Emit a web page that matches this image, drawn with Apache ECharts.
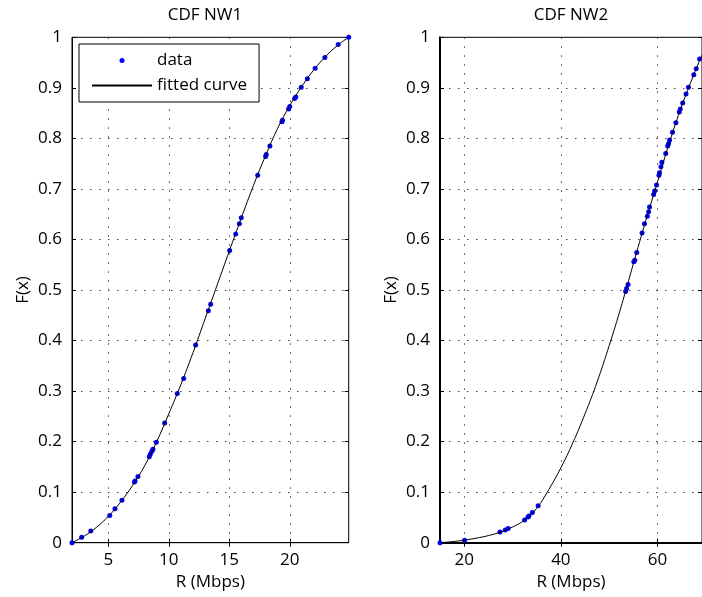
<!DOCTYPE html>
<html>
<head>
<meta charset="utf-8">
<title>CDF NW1 / NW2</title>
<script src="https://cdn.jsdelivr.net/npm/echarts@6/dist/echarts.min.js"></script>
<style>
  html, body { margin: 0; padding: 0; background: #fff; }
  #cdf-chart { width: 702px; height: 597px; }
</style>
</head>
<body>
<div id="cdf-chart"></div>
<script>
// ==============================================================
// data
// ==============================================================
var nw1X = [2.0, 2.8, 3.55, 5.12, 5.55, 6.13, 7.16, 7.21, 7.45, 8.39, 8.47, 8.60, 8.69, 8.97, 9.66, 10.70, 11.23, 12.22, 13.27, 13.46,
            15.03, 15.53, 15.83, 15.99, 17.35, 18.0, 18.06, 18.36, 19.35, 19.4, 19.9, 20.0, 20.4, 20.5, 20.95, 21.45, 22.1, 22.9, 24.0, 24.87];
var nw1F = [0, 0.011, 0.023, 0.054, 0.067, 0.084, 0.120, 0.122, 0.131, 0.170, 0.175, 0.181, 0.185, 0.199, 0.237, 0.295, 0.325, 0.391, 0.459, 0.472,
            0.578, 0.611, 0.631, 0.643, 0.727, 0.764, 0.768, 0.785, 0.833, 0.836, 0.858, 0.863, 0.879, 0.882, 0.901, 0.918, 0.939, 0.960, 0.986, 1.0];

var fit1X = [2, 3, 4, 5, 6, 7, 8, 9, 10, 11, 12, 13, 14, 15, 16, 17, 18, 19, 20, 21, 22, 23, 24, 24.87];
var fit1F = [0, 0.013, 0.03, 0.052, 0.08, 0.113, 0.152, 0.2, 0.255, 0.313, 0.376, 0.443, 0.51, 0.577, 0.643, 0.707, 0.766, 0.82, 0.865, 0.903, 0.936, 0.963, 0.985, 1.0];

var nw2X = [15, 20.1, 27.4, 28.5, 29.1, 32.5, 33.2, 33.4, 34.1, 35.3, 53.4, 53.6, 53.9, 55.1, 55.3, 55.7, 56.8, 57.3, 57.9, 58.15, 58.35,
            59.2, 59.4, 59.8, 60.3, 60.4, 60.7, 60.9, 61.7, 62.1, 62.3, 62.5, 63.1, 63.8, 64.5, 64.7, 65.2, 65.9, 66.4, 67.5, 68.0, 68.7];
var nw2F = [0, 0.005, 0.021, 0.025, 0.028, 0.045, 0.051, 0.053, 0.060, 0.073, 0.497, 0.503, 0.511, 0.556, 0.559, 0.574, 0.613, 0.631, 0.646, 0.655, 0.664,
            0.689, 0.696, 0.708, 0.727, 0.732, 0.744, 0.753, 0.770, 0.785, 0.790, 0.797, 0.812, 0.831, 0.852, 0.858, 0.870, 0.888, 0.901, 0.926, 0.938, 0.957];

var fit2X = [15, 17.5, 20, 22.5, 25, 27.5, 30, 32.5, 35, 37.5, 40, 42.5, 45, 47.5, 50, 52.5, 55, 57.5, 60, 62.5, 65, 67.5, 69.2];
var fit2F = [0, 0.002, 0.005, 0.009, 0.014, 0.021, 0.031, 0.045, 0.068, 0.105, 0.148, 0.198, 0.255, 0.318, 0.39, 0.468, 0.552, 0.635, 0.714, 0.793, 0.864, 0.926, 0.965];

var xTicks1 = [5, 10, 15, 20];
var xTicks2 = [20, 40, 60];

var titles = ['CDF NW1', 'CDF NW2'];

// ==============================================================
function pairs(xs, ys) {
    return xs.map(function (x, i) { return [x, ys[i]]; });
}

var FONT = '"Open Sans", "DejaVu Sans", sans-serif';
var txt = { fontFamily: FONT, fontSize: 17, color: '#000' };
var dotted = { color: '#444', width: 1, type: [1.5, 7.5] };

function xAxisFor(grid, min, max, ticks, top, lineW) {
    return {
        gridIndex: grid, type: 'value', min: min, max: max,
        position: top ? 'top' : 'bottom',
        axisLine: { show: !top, lineStyle: { color: '#000', width: lineW } },
        axisTick: { inside: true, length: 4, customValues: ticks, lineStyle: { color: '#000' } },
        axisLabel: { show: !top, customValues: ticks, margin: 9, fontFamily: FONT, fontSize: 17, color: '#000' },
        splitLine: { show: !top, lineStyle: dotted },
        name: top ? '' : 'R (Mbps)', nameLocation: 'middle', nameGap: 30, nameTextStyle: txt
    };
}

function yAxisFor(grid, right, lineW) {
    return {
        gridIndex: grid, type: 'value', min: 0, max: 1, interval: 0.1,
        position: right ? 'right' : 'left',
        axisLine: { show: !right, lineStyle: { color: '#000', width: lineW } },
        axisTick: { inside: true, length: 4, lineStyle: { color: '#000' } },
        axisLabel: { show: !right, margin: 10, fontFamily: FONT, fontSize: 17, color: '#000' },
        splitLine: { show: !right, lineStyle: dotted },
        name: right ? '' : 'F(x)', nameLocation: 'middle', nameGap: 40, nameTextStyle: txt
    };
}

var myChart = echarts.init(document.getElementById('cdf-chart'));

option = {
    animation: false,
    backgroundColor: '#fff',
    title: [
        { text: titles[0], left: 205, top: 7, textAlign: 'center', padding: 0,
          textStyle: { fontFamily: FONT, fontSize: 17, fontWeight: 'normal', color: '#000' } },
        { text: titles[1], left: 571, top: 7, textAlign: 'center', padding: 0,
          textStyle: { fontFamily: FONT, fontSize: 17, fontWeight: 'normal', color: '#000' } }
    ],
    legend: {
        data: ['data', { name: 'fitted curve', itemStyle: { opacity: 0 } }],
        orient: 'vertical',
        left: 79, top: 44,
        padding: [8, 12, 8, 12],
        itemWidth: 60, itemHeight: 5, itemGap: 8,
        selectedMode: false,
        backgroundColor: '#fff',
        borderColor: '#000', borderWidth: 1,
        textStyle: txt
    },
    grid: [
        { left: 72, top: 37.3, width: 276.7, bottom: 54.3, show: true,
          borderColor: '#000', borderWidth: 1, backgroundColor: '#fff', containLabel: false },
        { left: 440, top: 37.3, right: -2, bottom: 54.3, show: true,
          borderColor: '#000', borderWidth: 1, backgroundColor: '#fff', containLabel: false }
    ],
    xAxis: [
        xAxisFor(0, 2, 24.87, xTicks1, false, 1),
        xAxisFor(0, 2, 24.87, xTicks1, true, 1),
        xAxisFor(1, 15, 69.2, xTicks2, false, 2),
        xAxisFor(1, 15, 69.2, xTicks2, true, 1)
    ],
    yAxis: [
        yAxisFor(0, false, 1),
        yAxisFor(0, true, 1),
        yAxisFor(1, false, 2),
        yAxisFor(1, true, 1)
    ],
    series: [
        { name: 'fitted curve', type: 'line', xAxisIndex: 0, yAxisIndex: 0,
          data: pairs(fit1X, fit1F), smooth: 0.4, showSymbol: false, symbol: 'none',
          lineStyle: { color: '#000', width: 1 }, itemStyle: { color: '#000' } },
        { name: 'data', type: 'scatter', xAxisIndex: 0, yAxisIndex: 0,
          data: pairs(nw1X, nw1F), symbolSize: 5, itemStyle: { color: '#0000ff', opacity: 1 } },
        { name: 'fitted curve', type: 'line', xAxisIndex: 2, yAxisIndex: 2,
          data: pairs(fit2X, fit2F), smooth: 0.4, showSymbol: false, symbol: 'none',
          lineStyle: { color: '#000', width: 1 }, itemStyle: { color: '#000' } },
        { name: 'data', type: 'scatter', xAxisIndex: 2, yAxisIndex: 2,
          data: pairs(nw2X, nw2F), symbolSize: 5, itemStyle: { color: '#0000ff', opacity: 1 } }
    ]
};

myChart.setOption(option, true);
</script>
</body>
</html>
